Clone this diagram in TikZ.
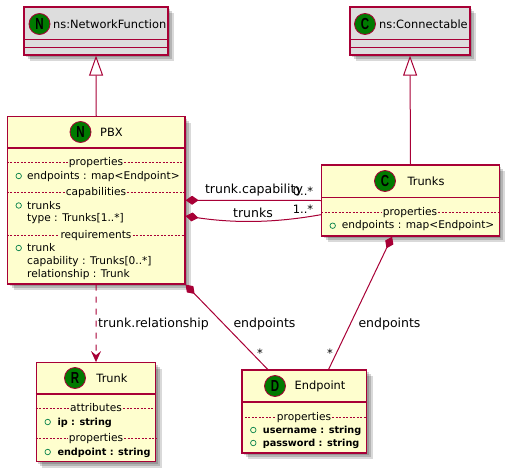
\documentclass[tikz,border=0pt]{standalone}
\usepackage{fontspec}
\setmainfont{DejaVu Sans}
\newfontfamily\spotfont{Liberation Sans}
\usepackage{tikz}
\usetikzlibrary{arrows.meta, shadows}
\definecolor{umlred}{HTML}{A80036}
\definecolor{umlfill}{HTML}{FEFECE}
\definecolor{umlhead}{HTML}{DDDDDD}
\definecolor{umlspot}{HTML}{007A00}
\definecolor{umlopen}{HTML}{038048}
\newcommand{\spotletter}[1]{\scalebox{0.72}[1]{#1}}
\tikzstyle{softshadow} = [drop shadow={shadow xshift=2pt, shadow yshift=-2pt, fill=black, opacity=0.17}, drop shadow={shadow xshift=4pt, shadow yshift=-4pt, fill=black, opacity=0.17}, drop shadow={shadow xshift=6pt, shadow yshift=-6pt, fill=black, opacity=0.15}]
\tikzstyle{classbox} = [draw=umlred, fill=umlfill, line width=1.2pt, inner sep=0pt, softshadow]
\tikzstyle{basebox} = [classbox, fill=umlhead]
\tikzstyle{divider} = [draw=umlred, line width=1.2pt]
\tikzstyle{secline} = [draw=umlred, line width=0.5pt, dash pattern=on 2pt off 1.5pt]
\tikzstyle{link} = [draw=umlred, line width=1pt]
\tikzstyle{spot} = [circle, draw=umlred, fill=umlspot, line width=0.8pt, minimum size=21pt, inner sep=0pt, font=\fontsize{16}{16}\spotfont\bfseries]
\tikzstyle{title} = [inner sep=0pt, font=\fontsize{11.4}{14}\selectfont]
\tikzstyle{sectitle} = [inner sep=1pt, font=\fontsize{10.6}{12}\selectfont, text height=8pt, text depth=2pt]
\tikzstyle{member} = [anchor=west, inner sep=0pt, font=\fontsize{10.6}{12}\selectfont, text height=8pt, text depth=2pt]
\tikzstyle{bmember} = [member, font=\fontsize{9.7}{12}\selectfont\bfseries]
\tikzstyle{pub} = [circle, draw=umlopen, line width=0.7pt, minimum size=5.5pt, inner sep=0pt]
\tikzstyle{edgetext} = [inner sep=0pt, font=\fontsize{12.5}{14}\selectfont]
\tikzstyle{multi} = [inner sep=0pt, font=\fontsize{11.5}{12}\selectfont]
\tikzstyle{inherit} = [link, {Triangle[open, fill=white, length=20pt, width=14pt]}-]
\tikzstyle{compose} = [link, {Diamond[length=13pt, width=9pt]}-]
\begin{document}
\begin{tikzpicture}[x=1pt, y=-1pt]
	\useasboundingbox (0,0) rectangle (512,474);
	% the two base classes
	\node[basebox, minimum width=144pt, minimum height=48pt] (nf) at (96,31) {};
	\draw[divider] (nf.west |- 0,39.5) -- (nf.east |- 0,39.5);
	\draw[divider] (nf.west |- 0,47.5) -- (nf.east |- 0,47.5);
	\node[spot] (nfspot) at (39.5,24) {\spotletter{N}};
	\node[title, anchor=west] (nftitle) at (53,24) {ns:NetworkFunction};
	\node[basebox, minimum width=120pt, minimum height=48pt] (conn) at (410,31) {};
	\draw[divider] (conn.west |- 0,39.5) -- (conn.east |- 0,39.5);
	\draw[divider] (conn.west |- 0,47.5) -- (conn.east |- 0,47.5);
	\node[spot] (connspot) at (365,24) {\spotletter{C}};
	\node[title, anchor=west] (conntitle) at (379,24) {ns:Connectable};
	% PBX
	\node[classbox, minimum width=177.5pt, minimum height=167.5pt] (pbx) at (96.25,200.25) {};
	\draw[divider] (pbx.west |- 0,148) -- (pbx.east |- 0,148);
	\node[spot] (pbxspot) at (80.5,132) {\spotletter{N}};
	\node[title] (pbxtitle) at (111.5,132) {PBX};
	\node[sectitle] (pbxprop) at (96,162) {properties};
	\draw[secline] (pbx.west |- pbxprop) -- (pbxprop.west);
	\draw[secline] (pbxprop.east) -- (pbx.east |- pbxprop);
	\node[pub] (pbxpub1) at (18.7,176) {};
	\node[member] (pbxend) at (27,176) {endpoints : map<Endpoint>};
	\node[sectitle] (pbxcap) at (96,192) {capabilities};
	\draw[secline] (pbx.west |- pbxcap) -- (pbxcap.west);
	\draw[secline] (pbxcap.east) -- (pbx.east |- pbxcap);
	\node[pub] (pbxpub2) at (18.7,205.5) {};
	\node[member] (pbxtrunks) at (27,206) {trunks};
	\node[member] (pbxtype) at (27,218.5) {type : Trunks[1..*]};
	\node[sectitle] (pbxreq) at (96,235) {requirements};
	\draw[secline] (pbx.west |- pbxreq) -- (pbxreq.west);
	\draw[secline] (pbxreq.east) -- (pbx.east |- pbxreq);
	\node[pub] (pbxpub3) at (18.7,248) {};
	\node[member] (pbxtrunk) at (27,248) {trunk};
	\node[member] (pbxcapab) at (27,261) {capability : Trunks[0..*]};
	\node[member] (pbxrel) at (27,274) {relationship : Trunk};
	% Trunks
	\node[classbox, minimum width=177.5pt, minimum height=71pt] (trunks) at (410.5,200.5) {};
	\draw[divider] (trunks.west |- 0,197.7) -- (trunks.east |- 0,197.7);
	\node[spot] (trunksspot) at (385,181) {\spotletter{C}};
	\node[title] (trunkstitle) at (426,181) {Trunks};
	\node[sectitle] (trunksprop) at (410,212) {properties};
	\draw[secline] (trunks.west |- trunksprop) -- (trunksprop.west);
	\draw[secline] (trunksprop.east) -- (trunks.east |- trunksprop);
	\node[pub] (trunkspub) at (332.7,225.7) {};
	\node[member] (trunksend) at (341.7,225.7) {endpoints : map<Endpoint>};
	% Trunk
	\node[classbox, minimum width=119.5pt, minimum height=99pt] (trunk) at (96,412.2) {};
	\draw[divider] (trunk.west |- 0,394) -- (trunk.east |- 0,394);
	\node[spot] (trunkspot) at (75,378) {\spotletter{R}};
	\node[title] (trunktitle) at (112,378) {Trunk};
	\node[sectitle] (trunkattr) at (96,408) {attributes};
	\draw[secline] (trunk.west |- trunkattr) -- (trunkattr.west);
	\draw[secline] (trunkattr.east) -- (trunk.east |- trunkattr);
	\node[pub] (trunkpub1) at (47.7,422) {};
	\node[bmember] (trunkip) at (57.3,422) {ip : string};
	\node[sectitle] (trunkprop) at (96,438) {properties};
	\draw[secline] (trunk.west |- trunkprop) -- (trunkprop.west);
	\draw[secline] (trunkprop.east) -- (trunk.east |- trunkprop);
	\node[pub] (trunkpub2) at (47.7,452) {};
	\node[bmember] (trunkend) at (57.3,452) {endpoint : string};
	% Endpoint
	\node[classbox, minimum width=124.5pt, minimum height=83pt] (ep) at (304.3,411.5) {};
	\draw[divider] (ep.west |- 0,402) -- (ep.east |- 0,402);
	\node[spot] (epspot) at (275,386) {\spotletter{D}};
	\node[title] (eptitle) at (320,386) {Endpoint};
	\node[sectitle] (epprop) at (304,417) {properties};
	\draw[secline] (ep.west |- epprop) -- (epprop.west);
	\draw[secline] (epprop.east) -- (ep.east |- epprop);
	\node[pub] (eppub1) at (253.3,430) {};
	\node[bmember] (epuser) at (262.7,430) {username : string};
	\node[pub] (eppub2) at (253.3,443) {};
	\node[bmember] (eppass) at (262.7,443) {password : string};
	% connectors
	\draw[inherit] (nf.south) -- (pbx.north);
	\draw[inherit] (conn.south) -- (trunks.north);
	\draw[compose] (pbx.east) -- (trunks.west);
	\draw[compose] (pbx.-10.8) .. controls (240,224) and (280,222) .. (trunks.189.6);
	\draw[compose] (pbx.south east) -- (ep.131);
	\draw[compose] (trunks.243.8) -- (ep.60);
	\draw[link, dash pattern=on 6pt off 6pt, -{Stealth[length=11pt, width=10pt, inset=4pt]}] (pbx.south) -- (trunk.north);
	% labels
	\node[edgetext] (lblcap) at (254,190) {trunk.capability};
	\node[edgetext] (lbltrunks) at (253,213) {trunks};
	\node[multi] (mulcap) at (303,191) {0..*};
	\node[multi] (multrunks) at (303,209) {1..*};
	\node[edgetext] (lblrel) at (153.5,324) {trunk.relationship};
	\node[edgetext] (lblend) at (264.5,324) {endpoints};
	\node[edgetext] (lblend2) at (389.5,324) {endpoints};
	\node[multi] (mulend) at (260,353.5) {*};
	\node[multi] (mulend2) at (330,353.5) {*};
\end{tikzpicture}
\end{document}
